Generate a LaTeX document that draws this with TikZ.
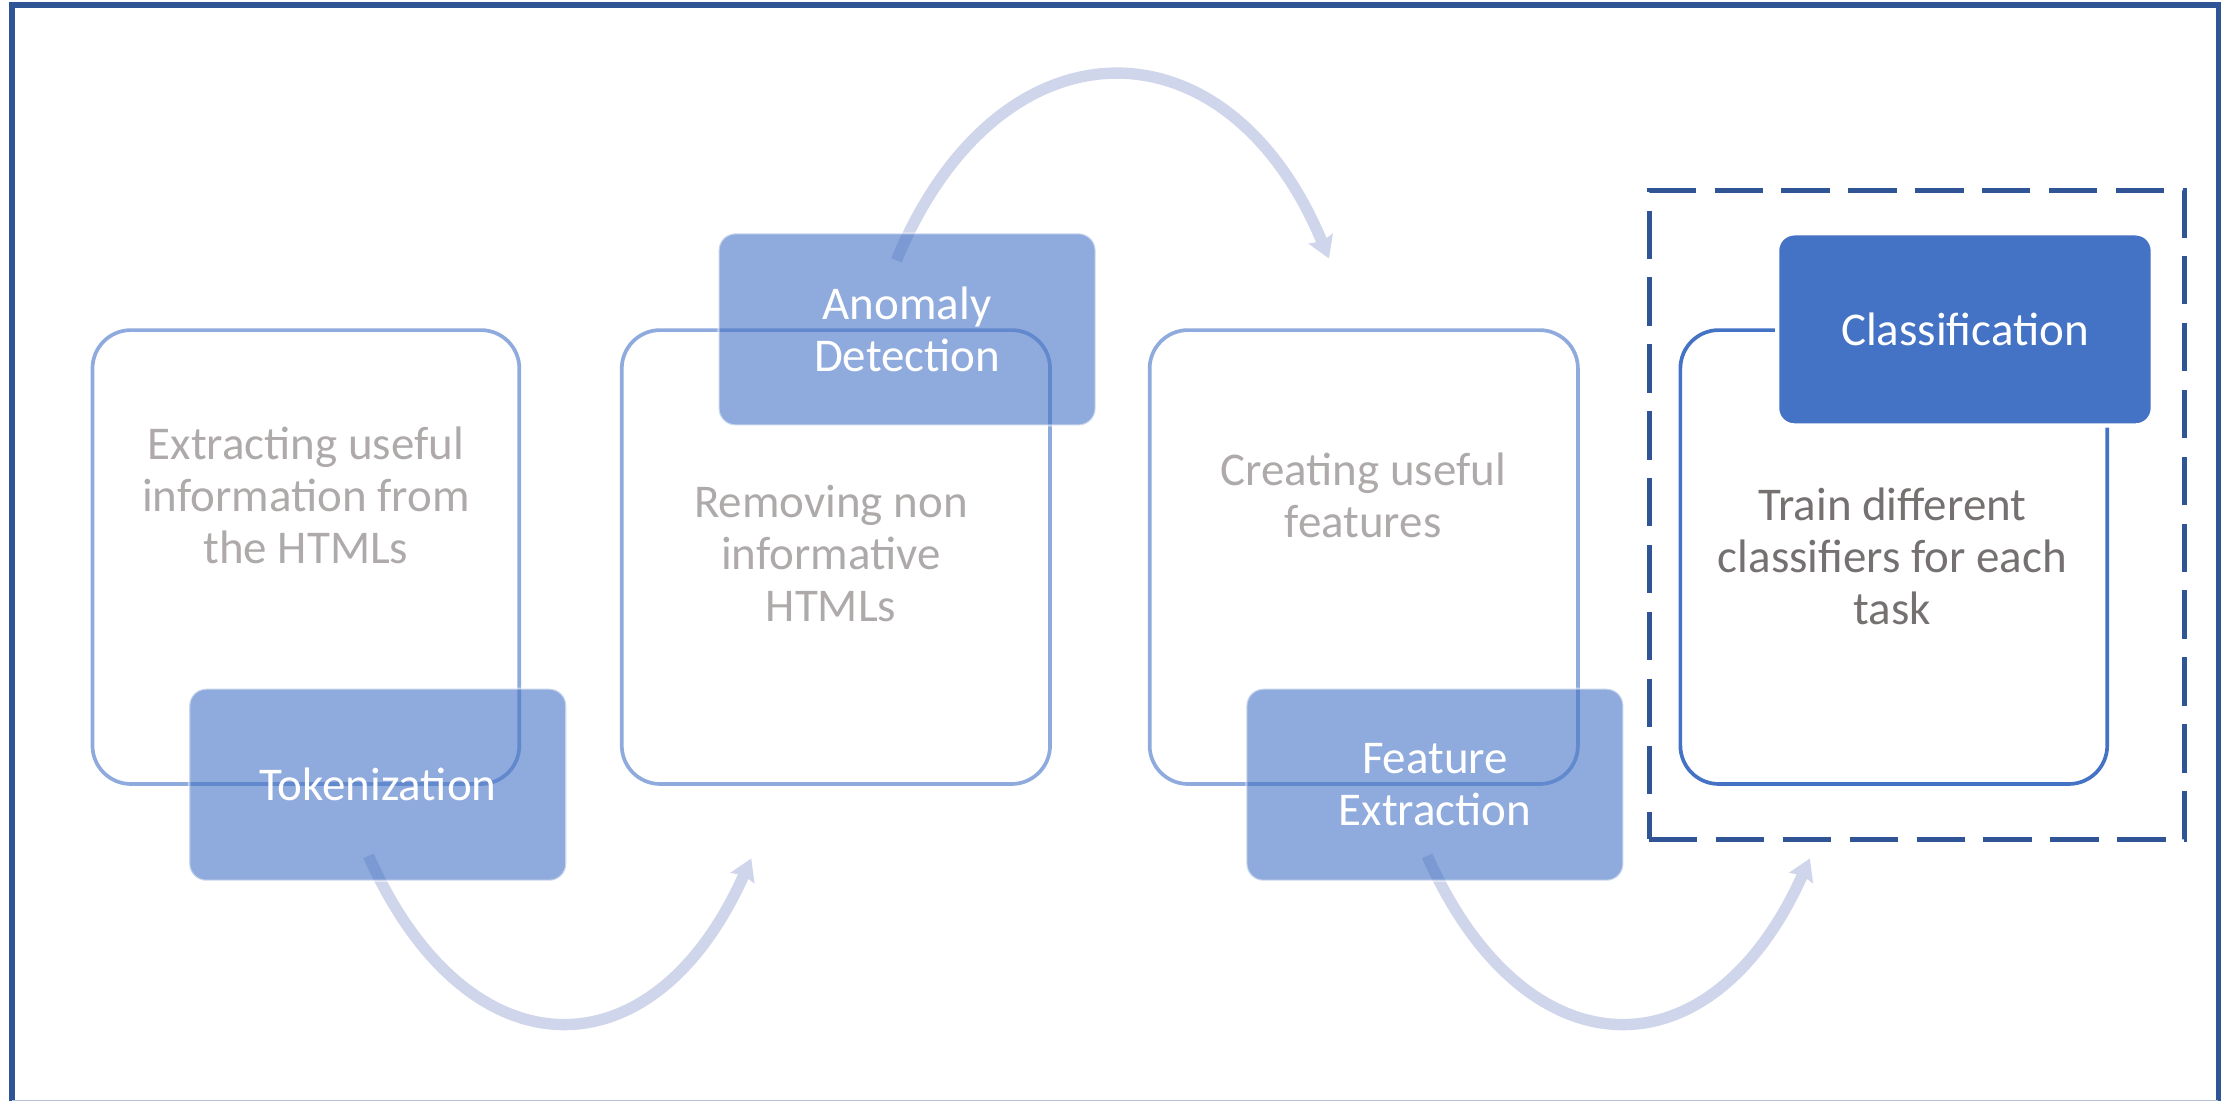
\documentclass[tikz,border=0pt]{standalone}
\usepackage{fontspec}
\setmainfont{Carlito}
\usetikzlibrary{arrows.meta,calc}
\definecolor{frameblue}{HTML}{2F5597}
\definecolor{lightline}{HTML}{8FAADC}
\definecolor{accent}{HTML}{4472C4}
\definecolor{arrowcol}{HTML}{CFD5EA}
\definecolor{graytext}{HTML}{AEAAAA}
\definecolor{darktext}{HTML}{767171}
\definecolor{bottomline}{HTML}{B4C3DA}
\tikzset{
  outbox/.style={draw=lightline, line width=2.6pt, rounded corners=27pt,
    minimum width=300pt, minimum height=319pt, inner sep=0pt},
  outboxstrong/.style={outbox, draw=accent},
  tagbox/.style={fill=accent, fill opacity=0.6, draw=white, draw opacity=0.5,
    line width=1.5pt, rounded corners=12pt, minimum width=265pt, minimum height=135pt,
    text=white, text opacity=1, align=center, inner sep=0pt,
    font=\fontsize{33}{36.5}\selectfont},
  tagsolid/.style={tagbox, fill opacity=1, draw opacity=1, line width=3pt},
  bodytext/.style={text=graytext, align=center, inner sep=0pt,
    font=\fontsize{33}{36.5}\selectfont},
  flowarrow/.style={draw=arrowcol, line width=8pt,
    -{Stealth[width=18pt, length=15pt, inset=2pt]}},
  dashbox/.style={draw=frameblue, line width=3.6pt, dash pattern=on 34pt off 13pt,
    minimum width=376pt, minimum height=456pt, inner sep=0pt}
}
\begin{document}
\begin{tikzpicture}[x=1pt,y=-1pt]
\useasboundingbox (0,0) rectangle (1568,774);
% outer frame
\draw[frameblue, line width=3.8pt] (8.4,774) -- (8.4,3.5) -- (1559,3.5) -- (1559,774);
\draw[bottomline, line width=1pt] (8.4,773.4) -- (1559,773.4);

% outline boxes
\node[outbox] (b1) at (215,391.5) {};
\node[outbox, minimum width=301pt] (b2) at (587.5,391.5) {};
\node[outbox, minimum width=301pt] (b3) at (958.5,391.5) {};
\node[outboxstrong] (b4) at (1331,391.5) {};

% arrow anchors
\path (265.5,551.5) coordinate (tokc);
\path (637.5,231.5) coordinate (anoc);
\path (1008.5,551.5) coordinate (feac);

\coordinate (a1s) at ($(tokc)+(-6.5,50)$);
\coordinate (a1e) at ($(b2.south)+(-59.5,51)$);
\coordinate (a2s) at ($(anoc)+(-7.5,-48.5)$);
\coordinate (a2e) at ($(b3.north)+(-24.5,-49)$);
\coordinate (a3s) at ($(feac)+(-5.5,50)$);
\coordinate (a3e) at ($(b4.south)+(-59,51)$);

\draw[flowarrow] (a1s) .. controls +(69,155) and +(-69,155) .. (a1e);
\draw[flowarrow] (a2s) .. controls +(71.5,-172.7) and +(-71.5,-172.7) .. (a2e);
\draw[flowarrow] (a3s) .. controls +(69,155) and +(-69,155) .. (a3e);

% dashed highlight
\node[dashbox] (hl) at (1347,362) {};

% tag boxes
\node[tagbox] (tok) at (tokc) {Tokenization};
\node[tagbox] (ano) at (anoc) {Anomaly\\Detection};
\node[tagbox] (fea) at (feac) {Feature\\Extraction};
\node[tagsolid, minimum width=264pt] (cls) at (1381,231.5) {Classification};

% body texts
\node[bodytext] (t1) at (215,348) {Extracting useful\\information from\\the HTMLs};
\node[bodytext] (t2) at (584,389) {Removing non\\informative\\HTMLs};
\node[bodytext] (t3) at (958,348) {Creating useful\\features};
\node[bodytext, text=darktext] (t4) at (1330,391) {Train different\\classifiers for each\\task};
\end{tikzpicture}
\end{document}
